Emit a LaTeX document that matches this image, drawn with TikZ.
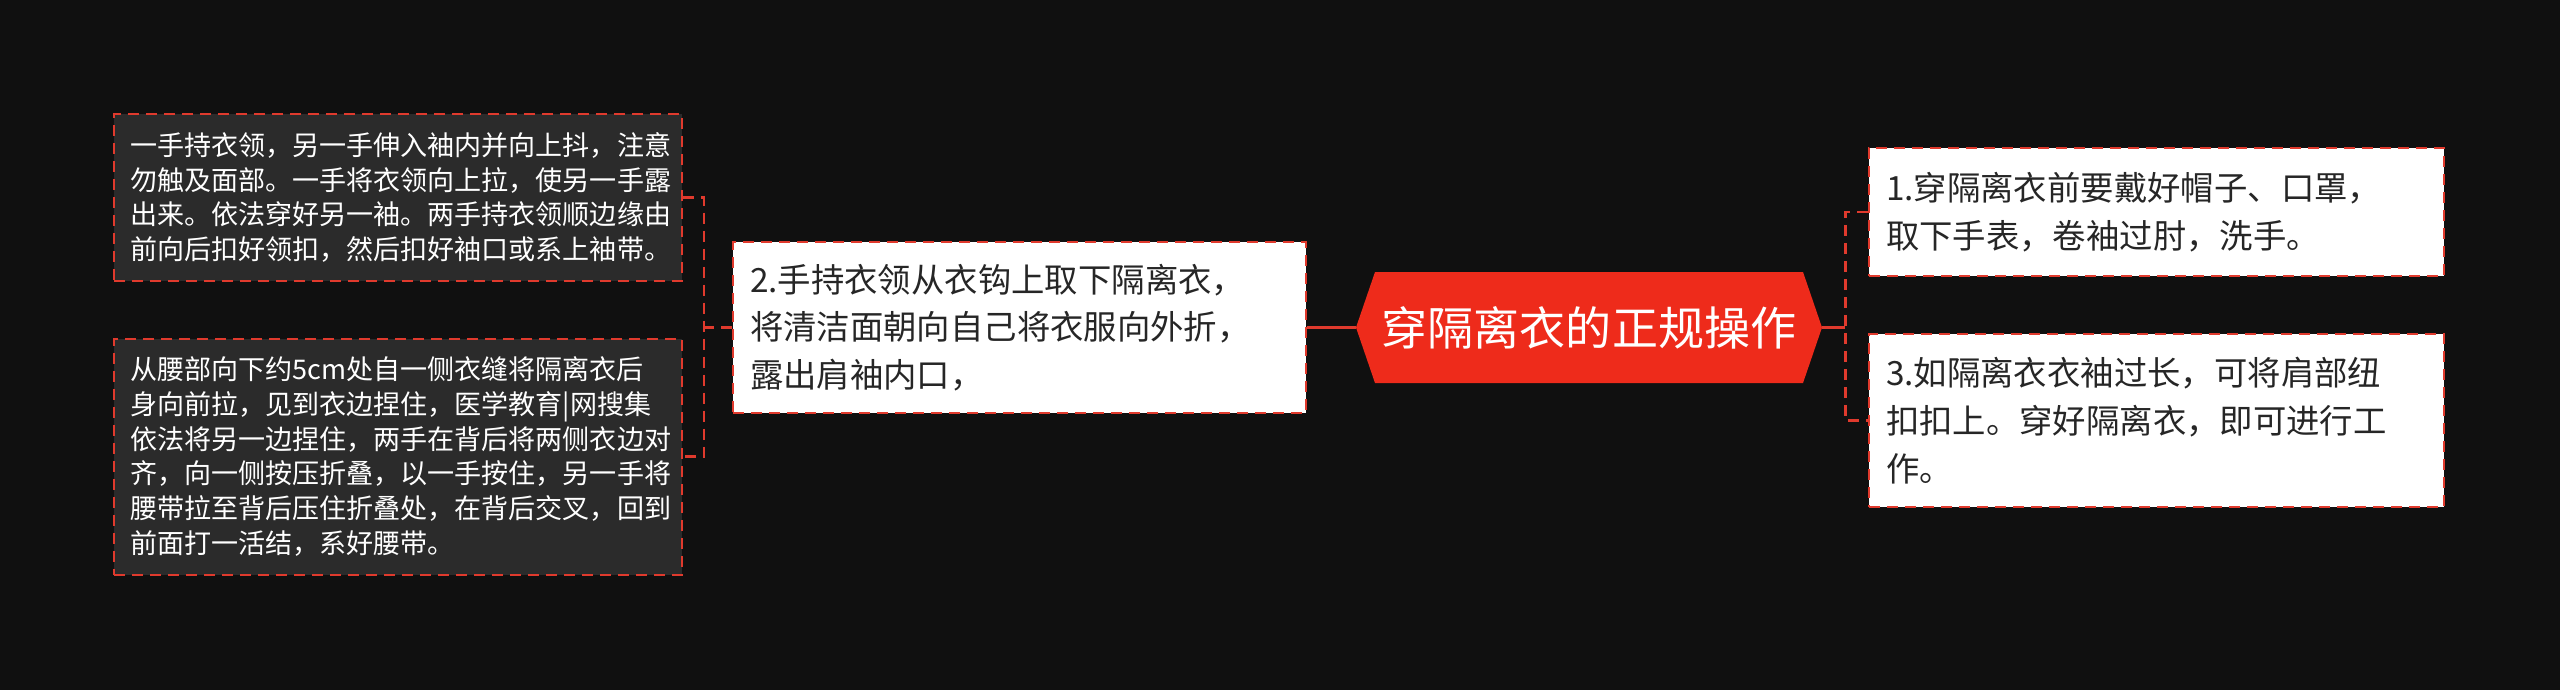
\documentclass[tikz,border=0pt]{standalone}
\usepackage{fontspec}
\newfontfamily\cjk{Noto Sans CJK SC}
\usepackage{xcolor}
\usepackage{tikz}
\usetikzlibrary{calc, positioning}

\definecolor{bgdark}{HTML}{101010}
\definecolor{linered}{HTML}{E03A2D}
\definecolor{rootred}{HTML}{EE2B1B}
\definecolor{boxgray}{HTML}{2B2B2B}
\definecolor{inkgray}{HTML}{262626}
\newlength\px
\setlength\px{0.02cm}

\begin{document}
\begin{tikzpicture}[x=0.02cm, y=-0.02cm,
    darkbox/.style={draw=linered, line width=2\px, dash pattern=on 11\px off 7\px,
      fill=boxgray, text=white, font=\cjk\fontsize{15.4}{19.7}\selectfont,
      align=left, inner xsep=16\px, inner ysep=0pt, text width=536\px, minimum width=568\px},
    whitebox/.style={draw=linered, line width=2\px, dash pattern=on 11\px off 7\px,
      fill=white, text=inkgray, font=\cjk\fontsize{19}{27.2}\selectfont,
      align=left, inner xsep=17\px, inner ysep=0pt},
    roottext/.style={text=white, font=\cjk\fontsize{26.2}{30}\selectfont, inner sep=0pt,
      minimum width=466\px, minimum height=111\px},
    trunk/.style={draw=linered, line width=3\px},
    branch/.style={draw=linered, line width=2.5\px, dash pattern=on 11\px off 7\px}
  ]
  % Background
  \fill[bgdark] (0,0) rectangle (2560,690);

  % Root
  \coordinate (rootc) at (1589,327.5);
  \fill[rootred] ($(rootc)+(-233,0)$) -- ($(rootc)+(-214,-55.5)$) -- ($(rootc)+(214,-55.5)$)
    -- ($(rootc)+(233,0)$) -- ($(rootc)+(214,55.5)$) -- ($(rootc)+(-214,55.5)$) -- cycle;
  \node[roottext] (root) at (rootc) {穿隔离衣的正规操作};

  % Step 2 and its details
  \node[whitebox, text width=539\px, minimum width=573\px, minimum height=171\px] (take) at (1019.5,327.5) {
    2.手持衣领从衣钩上取下隔离衣，\\
    将清洁面朝向自己将衣服向外折，\\
    露出肩袖内口，};
  \node[darkbox, minimum height=167\px] (sleeve) at (398,197.5) {
    一手持衣领，另一手伸入袖内并向上抖，注意\\
    勿触及面部。一手将衣领向上拉，使另一手露\\
    出来。依法穿好另一袖。两手持衣领顺边缘由\\
    前向后扣好领扣，然后扣好袖口或系上袖带。};
  \node[darkbox, minimum height=236\px] (belt) at (398,456.5) {
    从腰部向下约5cm处自一侧衣缝将隔离衣后\\
    身向前拉，见到衣边捏住，医学教育|网搜集\\
    依法将另一边捏住，两手在背后将两侧衣边对\\
    齐，向一侧按压折叠，以一手按住，另一手将\\
    腰带拉至背后压住折叠处，在背后交叉，回到\\
    前面打一活结，系好腰带。};

  % Steps 1 and 3
  \node[whitebox, text width=541\px, minimum width=575\px, minimum height=128\px] (prep) at (2156.5,212) {
    1.穿隔离衣前要戴好帽子、口罩，\\
    取下手表，卷袖过肘，洗手。};
  \node[whitebox, text width=541\px, minimum width=575\px, minimum height=173\px] (finish) at (2156.5,420.5) {
    3.如隔离衣衣袖过长，可将肩部纽\\
    扣扣上。穿好隔离衣，即可进行工\\
    作。};

  % Connectors
  \draw[trunk] (root.west) -- (take.east);
  \draw[branch] (take.west) -- ++(-28,0) coordinate (lj);
  \draw[branch] (sleeve.east) -| (lj) |- (belt.east);
  \draw[trunk] (root.east) -- ++(23,0) coordinate (rj);
  \draw[branch] (prep.west) -| (rj) |- (finish.west);
\end{tikzpicture}
\end{document}
